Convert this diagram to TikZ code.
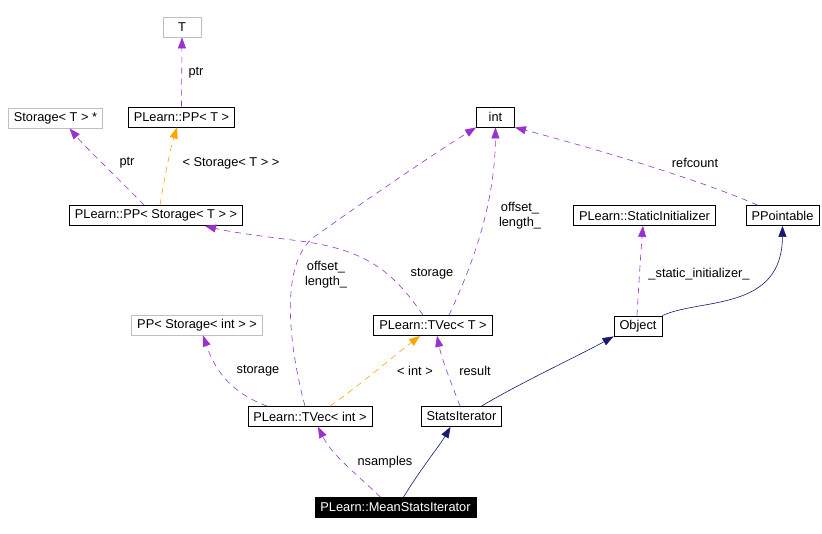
\documentclass[tikz,border=0pt]{standalone}
\usepackage{fontspec}
\setmainfont{Liberation Sans}
\usetikzlibrary{arrows.meta}
\definecolor{dxMember}{HTML}{9A32CD}
\definecolor{dxTemplate}{HTML}{FFA500}
\definecolor{dxInherit}{HTML}{191970}
\definecolor{dxGrey}{HTML}{BFBFBF}
\tikzset{
  dxFont/.style={font={\fontsize{12.8}{15}\selectfont}},
  dxBox/.style={dxFont, draw=black, line width=0.8pt, inner xsep=5.5pt, inner ysep=0pt, minimum height=20pt, minimum width=38pt},
  dxExtBox/.style={dxBox, draw=dxGrey},
  dxSelfBox/.style={dxBox, fill=black, text=white},
  dxMbr/.style={draw=dxMember, line width=0.6pt, dash pattern=on 6pt off 5pt, -{Triangle[length=11pt,width=8pt,fill=dxMember]}},
  dxTpl/.style={draw=dxTemplate, line width=0.6pt, dash pattern=on 6pt off 5pt, -{Triangle[length=11pt,width=8pt,fill=dxTemplate]}},
  dxInh/.style={draw=dxInherit, line width=0.6pt, -{Triangle[length=11pt,width=8pt,fill=dxInherit]}},
  dxLbl/.style={dxFont, inner sep=0pt, align=center}
}
\begin{document}
\begin{tikzpicture}[x=1pt,y=-1pt]
\useasboundingbox[fill=white] (0,0) rectangle (822,534);
\node[dxExtBox] (t) at (182,27) {T};
\node[dxExtBox] (storPtr) at (55.5,118) {Storage< T > *};
\node[dxBox] (ppT) at (181.5,117) {PLearn::PP< T >};
\node[dxBox] (ppStor) at (156,215.5) {PLearn::PP< Storage< T > >};
\node[dxBox] (int) at (495.5,117) {int};
\node[dxBox] (tvecT) at (433,325.5) {PLearn::TVec< T >};
\node[dxExtBox] (ppStorInt) at (197,325) {PP< Storage< int > >};
\node[dxBox] (tvecInt) at (310,416.5) {PLearn::TVec< int >};
\node[dxBox] (statsIt) at (461.5,416.5) {StatsIterator};
\node[dxSelfBox] (meanIt) at (395.5,507.5) {PLearn::MeanStatsIterator};
\node[dxBox] (statInit) at (644.5,215.5) {PLearn::StaticInitializer};
\node[dxBox] (ppointable) at (782.5,215.5) {PPointable};
\node[dxBox] (object) at (638,326) {Object};
\draw[dxMbr] (ppT.north) -- (t.south);
\node[dxLbl] (lPtrT) at (196,73) {ptr};
\draw[dxMbr] ([xshift=-12pt]ppStor.north) .. controls (120,180) and (88,150) .. ([xshift=14pt]storPtr.south);
\node[dxLbl] (lPtrS) at (127,163) {ptr};
\draw[dxTpl] ([xshift=4pt]ppStor.north) .. controls (164,180) and (170,150) .. ([xshift=-4.5pt]ppT.south);
\node[dxLbl] (lStorT) at (231,163) {< Storage< T > >};
\draw[dxMbr] ([xshift=-10pt]tvecT.north) .. controls (395,275) and (370,250) .. (300,241) .. controls (260,236) and (230,232) .. ([xshift=49pt]ppStor.south);
\node[dxLbl] (lStorU) at (432,274) {storage};
\draw[dxMbr] ([xshift=16pt]tvecT.north) .. controls (475,260) and (495,200) .. (int.south);
\node[dxLbl] (lOffR) at (520,215.5) {offset\_\\length\_};
\draw[dxMbr] ([xshift=-5pt]tvecInt.north) .. controls (290,350) and (278,265) .. (314,237) .. controls (380,190) and (440,150) .. (int.south west);
\node[dxLbl] (lOffL) at (326,274.5) {offset\_\\length\_};
\draw[dxMbr] ([xshift=-43pt]tvecInt.north) .. controls (230,392) and (215,370) .. ([xshift=6pt]ppStorInt.south);
\node[dxLbl] (lStorL) at (258,371) {storage};
\draw[dxTpl] ([xshift=20pt]tvecInt.north) .. controls (360,385) and (395,355) .. ([xshift=-13pt]tvecT.south);
\node[dxLbl] (lInt) at (415,371) {< int >};
\draw[dxMbr] ([xshift=-1.5pt]statsIt.north) .. controls (452,385) and (442,360) .. ([xshift=4pt]tvecT.south);
\node[dxLbl] (lRes) at (475,371) {result};
\draw[dxInh] ([xshift=20pt]statsIt.north) .. controls (520,383) and (580,355) .. (object.south west);
\draw[dxMbr] ([xshift=-15pt]meanIt.north) .. controls (352,470) and (332,455) .. ([xshift=8pt]tvecInt.south);
\node[dxLbl] (lNs) at (385,462) {nsamples};
\draw[dxInh] ([xshift=8pt]meanIt.north) .. controls (420,470) and (440,445) .. ([xshift=-11pt]statsIt.south);
\draw[dxMbr] ([xshift=-1pt]object.north) .. controls (639,280) and (641,250) .. ([xshift=-1.5pt]statInit.south);
\node[dxLbl] (lStat) at (699,274) {\_static\_initializer\_};
\draw[dxInh] (object.north east) .. controls (700,298) and (782,312) .. (ppointable.south);
\draw[dxMbr] ([xshift=-25pt]ppointable.north) .. controls (700,180) and (600,150) .. (int.south east);
\node[dxLbl] (lRef) at (695,163) {refcount};
\end{tikzpicture}
\end{document}
